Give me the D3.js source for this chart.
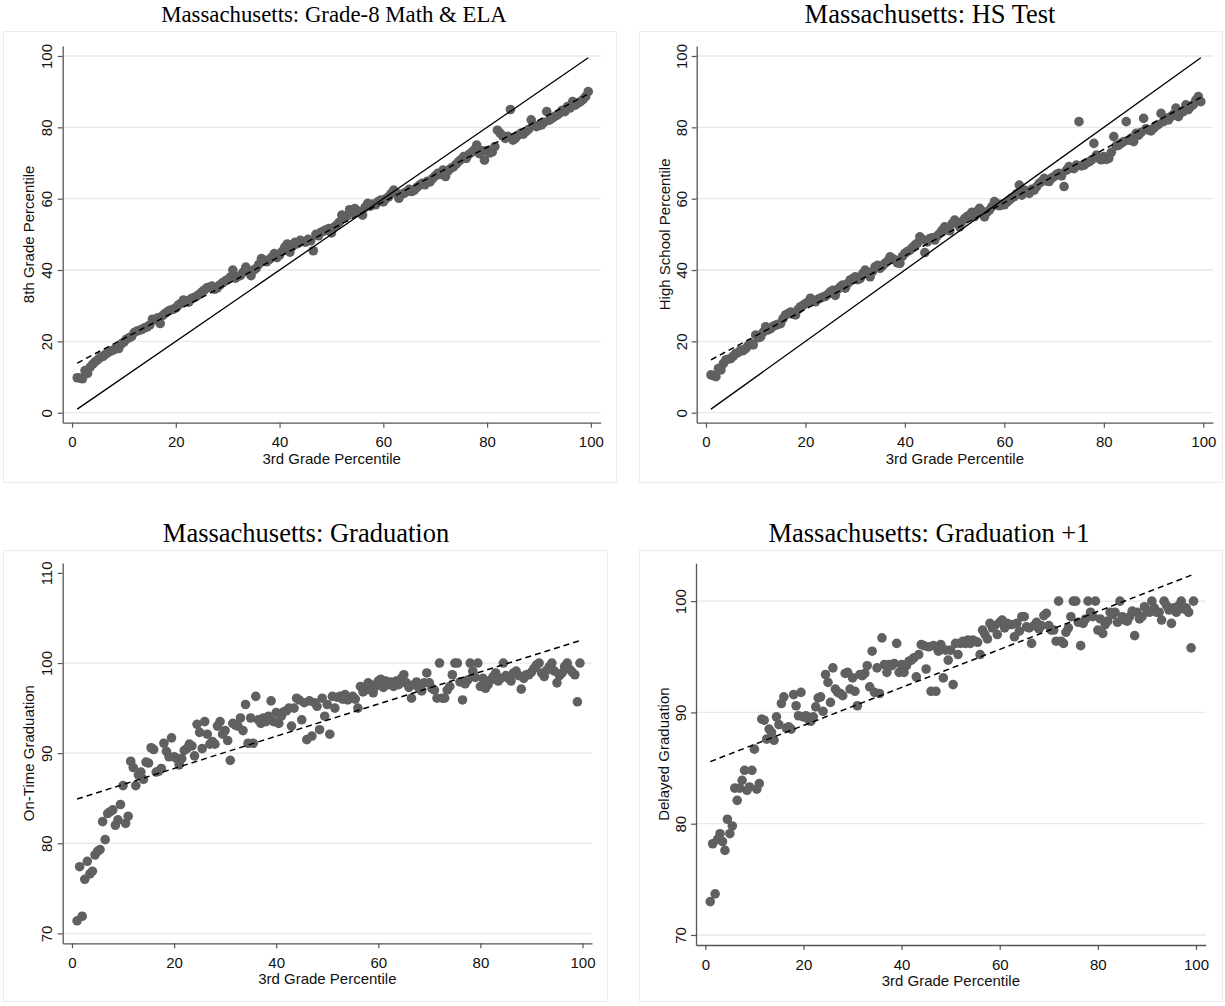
<!DOCTYPE html>
<html>
<head>
<meta charset="utf-8">
<script src="https://cdn.jsdelivr.net/npm/d3@7"></script>
<style>
  body { margin: 0; background: #fff; }
  svg { display: block; }
</style>
</head>
<body>
<svg id="chart" width="1225" height="1006"></svg>
<script>
// Third-grade percentile bins (half-percentile steps, 1 to 99.5)
const percentileBins = d3.range(1, 100, 0.5);

// Mean 8th grade percentile by 3rd grade percentile bin
const grade8Percentile = [
  9.8, 9.7, 9.5, 11.8, 11.0, 12.8, 13.6, 14.3, 14.9, 15.6,
  15.8, 16.4, 16.9, 17.3, 17.6, 18.2, 18.0, 19.3, 19.8, 20.6,
  21.0, 21.4, 22.5, 22.9, 23.1, 23.4, 23.8, 24.1, 24.6, 26.2,
  26.0, 26.6, 25.0, 27.3, 27.9, 28.4, 28.8, 29.0, 29.4, 30.2,
  30.7, 31.6, 31.2, 31.0, 32.0, 32.3, 32.6, 33.2, 33.8, 34.4,
  35.0, 35.2, 35.5, 34.6, 35.0, 35.8, 36.4, 36.9, 37.3, 38.0,
  40.0, 37.7, 38.2, 38.5, 39.4, 40.8, 39.6, 38.4, 40.0, 40.5,
  41.6, 43.2, 42.8, 42.3, 42.9, 43.6, 44.6, 43.5, 44.2, 45.2,
  46.4, 47.3, 45.0, 46.6, 47.8, 47.4, 48.3, 48.0, 47.8, 48.6,
  48.2, 45.4, 50.0, 49.6, 50.6, 50.9, 51.3, 51.6, 50.4, 52.0,
  52.6, 53.4, 55.4, 54.6, 55.2, 56.9, 56.2, 57.2, 56.6, 56.0,
  55.4, 57.6, 58.7, 57.9, 58.5, 58.3, 59.2, 59.6, 59.1, 60.0,
  60.5, 61.4, 62.4, 61.6, 60.1, 61.2, 61.5, 61.9, 62.6, 62.0,
  62.4, 63.2, 63.8, 64.3, 63.9, 64.9, 64.7, 65.6, 66.4, 67.1,
  66.8, 68.0, 66.2, 67.8, 68.5, 68.9, 69.6, 70.4, 71.0, 71.8,
  71.3, 72.4, 73.0, 73.6, 75.0, 72.6, 73.4, 70.8, 73.5, 72.8,
  73.1, 74.6, 79.2, 78.4, 77.6, 76.9, 77.5, 85.0, 76.4, 77.0,
  77.8, 78.3, 78.1, 78.8, 79.4, 82.1, 80.6, 80.2, 80.5, 80.7,
  81.4, 84.4, 82.0, 82.5, 83.0, 83.4, 84.0, 84.8, 84.4, 85.8,
  85.4, 87.2, 86.2, 86.8, 87.2, 87.8, 88.6, 90.0
];

// Mean high school test percentile by 3rd grade percentile bin
const highSchoolPercentile = [
  10.6, 10.4, 10.1, 12.4, 12.0, 13.8, 14.8, 15.0, 15.2, 15.9,
  16.6, 16.9, 17.6, 17.4, 18.0, 18.8, 19.4, 19.0, 21.8, 21.0,
  21.3, 22.6, 24.1, 23.2, 23.6, 24.2, 24.5, 24.8, 25.0, 26.4,
  27.4, 27.8, 28.2, 27.6, 27.4, 28.9, 29.7, 30.1, 30.6, 31.0,
  32.1, 31.4, 31.1, 31.8, 32.1, 32.4, 32.6, 33.2, 33.9, 34.3,
  32.9, 34.6, 35.3, 35.8, 34.9, 36.2, 37.2, 37.6, 38.1, 37.3,
  37.6, 39.0, 40.0, 39.3, 38.1, 39.6, 40.9, 41.3, 40.5, 41.2,
  41.9, 42.5, 43.7, 43.2, 42.8, 42.0, 41.9, 43.8, 44.7, 45.2,
  45.6, 46.3, 47.0, 47.5, 49.3, 48.6, 44.9, 47.9, 48.8, 49.0,
  48.4, 49.6, 50.3, 51.2, 52.1, 51.5, 51.0, 53.0, 54.0, 53.2,
  52.1, 53.6, 54.4, 55.0, 55.4, 56.2, 55.0, 56.4, 57.3, 56.5,
  54.9, 56.2, 56.8, 57.8, 59.2, 58.6, 58.0, 58.4, 58.3, 59.0,
  59.6, 60.2, 60.6, 61.4, 63.8, 61.0, 62.4, 62.0, 61.5, 62.6,
  62.4, 63.4, 64.3, 64.8, 65.7, 65.0, 64.8, 65.8, 66.2, 66.8,
  67.1, 66.4, 63.4, 68.0, 69.0, 68.6, 68.4, 69.4, 81.6, 69.2,
  69.4, 70.0, 70.3, 70.8, 75.5, 72.2, 71.3, 70.9, 71.8, 71.0,
  71.3, 73.0, 77.4, 74.8, 75.0, 75.6, 76.0, 81.6, 76.4, 77.0,
  76.0, 78.3, 77.8, 78.6, 82.5, 79.6, 79.2, 79.0, 79.7, 80.4,
  80.8, 83.9, 81.6, 82.5, 82.1, 83.0, 83.6, 85.4, 83.0, 84.2,
  84.4, 86.3, 85.0, 85.8, 86.4, 87.6, 88.6, 87.2
];

// On-time graduation rate (%) by 3rd grade percentile bin
const onTimeGraduation = [
  71.4, 77.4, 71.9, 76.0, 78.0, 76.6, 76.9, 78.7, 79.1, 79.3,
  82.4, 80.4, 83.3, 83.5, 83.7, 82.0, 82.6, 84.3, 86.4, 82.2,
  83.0, 89.1, 88.4, 86.4, 87.6, 87.9, 87.1, 89.0, 88.9, 90.6,
  90.4, 87.9, 88.0, 88.3, 91.1, 90.2, 89.6, 91.7, 89.6, 89.4,
  88.7, 89.4, 90.3, 90.5, 91.0, 90.8, 89.7, 93.2, 92.3, 90.5,
  93.5, 92.1, 91.0, 91.3, 91.0, 93.0, 93.5, 92.1, 92.5, 91.4,
  89.2, 93.3, 93.1, 93.0, 93.9, 92.5, 95.4, 91.1, 93.9, 91.1,
  96.3, 93.7, 93.3, 93.9, 93.5, 94.1, 95.8, 93.5, 94.5, 93.3,
  94.1, 94.6, 94.7, 95.0, 93.0, 95.0, 96.1, 95.9, 93.7, 95.6,
  91.5, 95.8, 91.9, 95.6, 95.2, 92.6, 96.1, 94.1, 95.4, 92.1,
  96.3, 95.0, 96.2, 96.3, 96.0, 96.5, 95.9, 96.1, 96.3, 96.0,
  95.0, 97.4, 96.8, 97.0, 97.8, 97.6, 96.7, 97.4, 98.0, 98.2,
  97.3, 98.0, 97.6, 97.9, 97.4, 98.0, 97.6, 98.3, 98.7, 97.8,
  97.3, 96.1, 97.6, 97.9, 97.2, 96.9, 97.8, 98.9, 97.8, 97.2,
  97.0, 96.1, 100.0, 96.1, 96.1, 97.0, 97.4, 98.7, 100.0, 100.0,
  97.9, 95.9, 97.7, 98.1, 100.0, 99.1, 98.4, 100.0, 97.4, 98.3,
  97.2, 97.6, 98.1, 98.5, 98.9, 98.0, 98.3, 100.0, 98.6, 98.3,
  98.0, 98.9, 99.1, 98.6, 97.1, 98.3, 98.7, 98.7, 99.0, 99.4,
  99.8, 100.0, 98.9, 98.5, 99.2, 99.6, 100.0, 99.1, 97.8, 98.6,
  98.9, 99.6, 100.0, 99.3, 99.0, 98.7, 95.7, 100.0
];

// Graduation within one extra year (%) by 3rd grade percentile bin
const delayedGraduation = [
  73.0, 78.2, 73.7, 78.6, 79.1, 78.4, 77.6, 80.4, 79.1, 79.8,
  83.2, 82.1, 83.2, 83.9, 84.8, 83.0, 83.3, 84.8, 86.7, 83.1,
  83.6, 89.4, 89.3, 87.6, 88.5, 88.2, 87.5, 89.6, 88.9, 90.8,
  91.4, 88.6, 88.7, 88.5, 91.6, 90.6, 89.7, 91.8, 89.6, 89.7,
  89.4, 89.2, 89.6, 90.5, 91.3, 91.4, 90.1, 93.4, 92.7, 90.9,
  94.0, 92.1, 91.8, 91.7, 91.5, 93.5, 93.6, 92.1, 93.1, 91.9,
  90.6, 93.4, 93.3, 93.5, 94.2, 92.3, 95.5, 91.8, 94.0, 91.7,
  96.7, 94.3, 93.6, 94.3, 94.2, 94.4, 96.2, 93.6, 94.3, 93.6,
  94.2, 94.6, 94.7, 94.9, 93.2, 95.2, 96.1, 96.0, 93.9, 95.9,
  91.9, 96.0, 91.9, 95.5, 96.1, 93.1, 95.6, 94.7, 95.6, 92.5,
  96.2, 95.2, 96.2, 96.4, 96.2, 96.5, 96.2, 96.5, 96.4, 96.3,
  95.2, 97.4, 97.0, 96.6, 98.0, 97.6, 97.8, 97.0, 98.1, 98.3,
  97.6, 98.0, 97.9, 97.9, 96.8, 98.0, 97.3, 98.6, 98.6, 97.7,
  97.6, 96.2, 97.8, 98.1, 97.5, 97.8, 98.7, 98.9, 97.8, 97.4,
  97.4, 96.4, 100.0, 96.4, 96.2, 97.2, 97.6, 98.6, 100.0, 100.0,
  98.1, 96.0, 98.0, 98.4, 100.0, 99.0, 98.6, 100.0, 97.4, 98.4,
  97.1, 97.9, 98.2, 99.0, 98.8, 99.0, 98.1, 100.0, 98.6, 98.3,
  98.2, 98.6, 99.1, 96.9, 99.0, 98.4, 98.6, 99.5, 99.2, 99.0,
  100.0, 99.4, 99.0, 99.0, 98.3, 100.0, 99.6, 99.2, 98.0, 99.4,
  99.0, 99.6, 100.0, 99.3, 99.4, 99.0, 95.8, 100.0
];

// Tick labels
const percentileTicks = [0, 20, 40, 60, 80, 100];
const onTimeTicks = [70, 80, 90, 100, 110];
const onTimeGrid = [70, 80, 90, 100];
const delayedTicks = [70, 80, 90, 100];

const panelTitles = [
  "Massachusetts: Grade-8 Math & ELA",
  "Massachusetts: HS Test",
  "Massachusetts: Graduation",
  "Massachusetts: Graduation +1"
];
const yAxisTitles = [
  "8th Grade Percentile",
  "High School Percentile",
  "On-Time Graduation",
  "Delayed Graduation"
];
const xAxisTitle = "3rd Grade Percentile";

// Panel geometry and styling
const panels = [
  {
    values: grade8Percentile, yTicks: percentileTicks, yGrid: percentileTicks, diagonal: true,
    box: [3, 31, 613, 451], titlePos: [334, 22], titleSize: 22.8,
    xDomain: [-1.8, 101.9], xRange: [62.7, 600.7],
    yDomain: [-2.8, 102.8], yRange: [422.7, 46],
    xTickBase: 447.5, xTitleBase: 463.5, yTickBase: 51.5, yTitleBase: 34
  },
  {
    values: highSchoolPercentile, yTicks: percentileTicks, yGrid: percentileTicks, diagonal: true,
    box: [639, 31, 583, 451], titlePos: [930, 23], titleSize: 26.5,
    xDomain: [-1.87, 101.95], xRange: [696.7, 1213],
    yDomain: [-2.8, 102.8], yRange: [422.7, 46],
    xTickBase: 447.5, xTitleBase: 463.5, yTickBase: 686.5, yTitleBase: 670
  },
  {
    values: onTimeGraduation, yTicks: onTimeTicks, yGrid: onTimeGrid, diagonal: false,
    box: [3, 550, 604, 451], titlePos: [306, 542], titleSize: 26.5,
    xDomain: [-1.82, 101.86], xRange: [62.7, 592],
    yDomain: [68.9, 111.1], yRange: [943.3, 563],
    xTickBase: 968, xTitleBase: 983.5, yTickBase: 51.5, yTitleBase: 34
  },
  {
    values: delayedGraduation, yTicks: delayedTicks, yGrid: delayedTicks, diagonal: false,
    box: [639, 550, 583, 451], titlePos: [929, 542], titleSize: 26.5,
    xDomain: [-1.9, 101.98], xRange: [696, 1205.7],
    yDomain: [69.1, 103.4], yRange: [945, 563.3],
    xTickBase: 970, xTitleBase: 985.5, yTickBase: 686, yTitleBase: 669
  }
];

const SANS = "'Liberation Sans', Arial, sans-serif";
const SERIF = "'Liberation Serif', 'Times New Roman', serif";
const AXIS_COLOR = "#555";
const DOT_COLOR = "#606060";

// Ordinary least squares fit
function linearFit(xs, ys) {
  const mx = d3.mean(xs), my = d3.mean(ys);
  let sxy = 0, sxx = 0;
  xs.forEach((x, i) => { sxy += (x - mx) * (ys[i] - my); sxx += (x - mx) * (x - mx); });
  const slope = sxy / sxx;
  return { slope, intercept: my - slope * mx };
}

const svg = d3.select("#chart");

panels.forEach((p, idx) => {
  const g = svg.append("g");
  const x = d3.scaleLinear().domain(p.xDomain).range(p.xRange);
  const y = d3.scaleLinear().domain(p.yDomain).range(p.yRange);
  const axisX = p.xRange[0];
  const axisY = p.yRange[0];

  // panel frame
  g.append("rect")
    .attr("x", p.box[0] + 0.5).attr("y", p.box[1] + 0.5)
    .attr("width", p.box[2]).attr("height", p.box[3])
    .attr("fill", "#fff").attr("stroke", "#ececec").attr("stroke-width", 1);

  // title
  g.append("text")
    .attr("x", p.titlePos[0]).attr("y", p.titlePos[1])
    .attr("text-anchor", "middle")
    .style("font-family", SERIF).style("font-size", p.titleSize + "px").attr("fill", "#000")
    .text(panelTitles[idx]);

  // horizontal gridlines
  g.append("g").selectAll("line").data(p.yGrid).join("line")
    .attr("x1", axisX).attr("x2", p.xRange[1])
    .attr("y1", d => y(d)).attr("y2", d => y(d))
    .attr("stroke", "#e9e7e9").attr("stroke-width", 1.3);

  // x axis
  const gx = g.append("g").attr("transform", `translate(0,${axisY})`)
    .call(d3.axisBottom(x).tickValues(percentileTicks).tickSize(5).tickSizeOuter(0));
  gx.select(".domain").attr("stroke", AXIS_COLOR).attr("stroke-width", 1.3);
  gx.selectAll(".tick line").attr("stroke", AXIS_COLOR).attr("stroke-width", 1.2);
  gx.selectAll(".tick text")
    .attr("y", p.xTickBase - axisY).attr("dy", 0)
    .style("font-family", SANS).style("font-size", "15px").attr("fill", "#111");

  // y axis with vertical tick labels
  const gy = g.append("g").attr("transform", `translate(${axisX},0)`)
    .call(d3.axisLeft(y).tickValues(p.yTicks).tickSize(5).tickSizeOuter(0));
  gy.select(".domain").attr("stroke", AXIS_COLOR).attr("stroke-width", 1.3);
  gy.selectAll(".tick line").attr("stroke", AXIS_COLOR).attr("stroke-width", 1.2);
  gy.selectAll(".tick text")
    .attr("transform", "rotate(-90)")
    .attr("x", 0).attr("y", -(axisX - p.yTickBase)).attr("dy", 0)
    .attr("text-anchor", "middle")
    .style("font-family", SANS).style("font-size", "15px").attr("fill", "#111");

  // axis titles
  g.append("text")
    .attr("x", (p.xRange[0] + p.xRange[1]) / 2).attr("y", p.xTitleBase)
    .attr("text-anchor", "middle")
    .style("font-family", SANS).style("font-size", "15px").attr("fill", "#111")
    .text(xAxisTitle);
  const yMid = (p.yRange[0] + p.yRange[1]) / 2;
  g.append("text")
    .attr("transform", `translate(${p.yTitleBase},${yMid}) rotate(-90)`)
    .attr("text-anchor", "middle")
    .style("font-family", SANS).style("font-size", "15px").attr("fill", "#111")
    .text(yAxisTitles[idx]);

  // scatter points
  const pts = percentileBins.map((b, i) => [b, p.values[i]]);
  g.append("g").selectAll("circle").data(pts).join("circle")
    .attr("cx", d => x(d[0])).attr("cy", d => y(d[1]))
    .attr("r", 4.8).attr("fill", DOT_COLOR);

  const xMin = d3.min(percentileBins), xMax = d3.max(percentileBins);

  // 45-degree reference line
  if (p.diagonal) {
    g.append("line")
      .attr("x1", x(xMin)).attr("y1", y(xMin))
      .attr("x2", x(xMax)).attr("y2", y(xMax))
      .attr("stroke", "#000").attr("stroke-width", 1.3);
  }

  // fitted linear trend
  const fit = linearFit(percentileBins, p.values);
  g.append("line")
    .attr("x1", x(xMin)).attr("y1", y(fit.intercept + fit.slope * xMin))
    .attr("x2", x(xMax)).attr("y2", y(fit.intercept + fit.slope * xMax))
    .attr("stroke", "#000").attr("stroke-width", 1.5)
    .attr("stroke-dasharray", "6,4");
});
</script>
</body>
</html>
